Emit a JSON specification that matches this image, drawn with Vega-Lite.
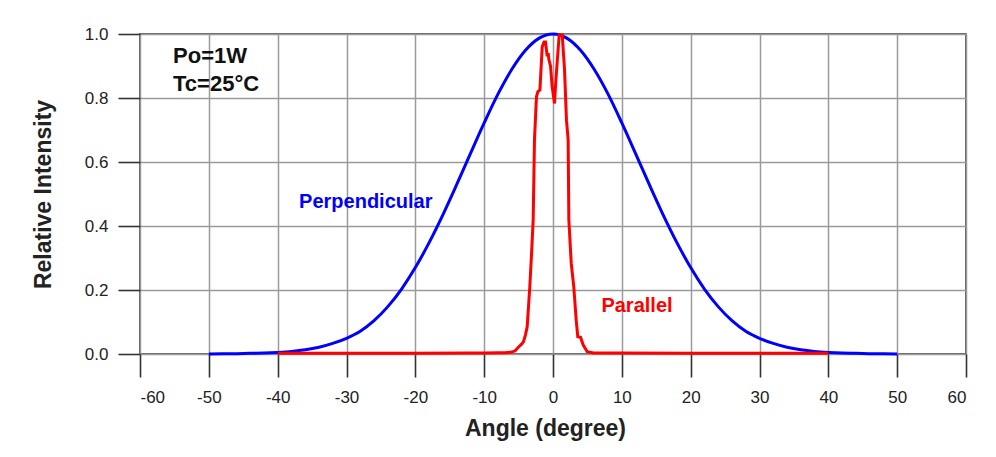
{
  "$schema": "https://vega.github.io/schema/vega-lite/v6.json",
  "autosize": {"type": "none"},
  "width": 826,
  "height": 320,
  "padding": {"left": 140, "top": 34, "right": 30, "bottom": 103},
  "background": "white",
  "config": {
    "font": "Liberation Sans",
    "view": {"stroke": "#333333", "strokeWidth": 1.6},
    "axis": {
      "domain": false,
      "grid": true,
      "gridColor": "#9a9a9a",
      "gridWidth": 1.5,
      "ticks": true,
      "tickColor": "#333333",
      "tickWidth": 1.6,
      "labelFont": "Liberation Sans",
      "labelFontSize": 17,
      "labelColor": "#222222",
      "titleFont": "Liberation Sans",
      "titleFontSize": 23,
      "titleFontWeight": "bold",
      "titleColor": "#222222"
    }
  },
  "datasets": {
    "perp": [
      {"angle": -50, "intensity": 0.0003}, {"angle": -48, "intensity": 0.0005}, {"angle": -46, "intensity": 0.001},
      {"angle": -44, "intensity": 0.002}, {"angle": -42, "intensity": 0.003}, {"angle": -40, "intensity": 0.005},
      {"angle": -38, "intensity": 0.008}, {"angle": -36, "intensity": 0.013}, {"angle": -34, "intensity": 0.021},
      {"angle": -32, "intensity": 0.033}, {"angle": -30, "intensity": 0.049}, {"angle": -28, "intensity": 0.071},
      {"angle": -26, "intensity": 0.104}, {"angle": -24, "intensity": 0.148}, {"angle": -22, "intensity": 0.203},
      {"angle": -20, "intensity": 0.27}, {"angle": -18, "intensity": 0.348}, {"angle": -16, "intensity": 0.435},
      {"angle": -14, "intensity": 0.529}, {"angle": -12, "intensity": 0.626}, {"angle": -10, "intensity": 0.722},
      {"angle": -8, "intensity": 0.812}, {"angle": -6, "intensity": 0.889}, {"angle": -4, "intensity": 0.949},
      {"angle": -2, "intensity": 0.987}, {"angle": 0, "intensity": 1.0}, {"angle": 2, "intensity": 0.987},
      {"angle": 4, "intensity": 0.949}, {"angle": 6, "intensity": 0.889}, {"angle": 8, "intensity": 0.812},
      {"angle": 10, "intensity": 0.722}, {"angle": 12, "intensity": 0.626}, {"angle": 14, "intensity": 0.529},
      {"angle": 16, "intensity": 0.435}, {"angle": 18, "intensity": 0.348}, {"angle": 20, "intensity": 0.27},
      {"angle": 22, "intensity": 0.203}, {"angle": 24, "intensity": 0.148}, {"angle": 26, "intensity": 0.104},
      {"angle": 28, "intensity": 0.071}, {"angle": 30, "intensity": 0.049}, {"angle": 32, "intensity": 0.033},
      {"angle": 34, "intensity": 0.021}, {"angle": 36, "intensity": 0.013}, {"angle": 38, "intensity": 0.008},
      {"angle": 40, "intensity": 0.005}, {"angle": 42, "intensity": 0.003}, {"angle": 44, "intensity": 0.002},
      {"angle": 46, "intensity": 0.001}, {"angle": 48, "intensity": 0.0005}, {"angle": 50, "intensity": 0.0003}
    ],
    "par": [
      {"angle": -40, "intensity": 0.002}, {"angle": -30, "intensity": 0.002}, {"angle": -20, "intensity": 0.002},
      {"angle": -12, "intensity": 0.003}, {"angle": -10, "intensity": 0.003}, {"angle": -8, "intensity": 0.004},
      {"angle": -7, "intensity": 0.004}, {"angle": -6, "intensity": 0.006}, {"angle": -5.5, "intensity": 0.01},
      {"angle": -5, "intensity": 0.022}, {"angle": -4.6, "intensity": 0.03}, {"angle": -4.3, "intensity": 0.038},
      {"angle": -4.0, "intensity": 0.06}, {"angle": -3.75, "intensity": 0.085}, {"angle": -3.37, "intensity": 0.21},
      {"angle": -3.1, "intensity": 0.32}, {"angle": -2.88, "intensity": 0.42}, {"angle": -2.69, "intensity": 0.67},
      {"angle": -2.4, "intensity": 0.804}, {"angle": -2.2, "intensity": 0.82}, {"angle": -1.9, "intensity": 0.825},
      {"angle": -1.57, "intensity": 0.96}, {"angle": -1.3, "intensity": 0.975}, {"angle": -1.09, "intensity": 0.975},
      {"angle": -0.84, "intensity": 0.93}, {"angle": -0.7, "intensity": 0.94}, {"angle": -0.6, "intensity": 0.92},
      {"angle": -0.36, "intensity": 0.9}, {"angle": -0.12, "intensity": 0.835}, {"angle": 0.22, "intensity": 0.783},
      {"angle": 0.4, "intensity": 0.85}, {"angle": 0.6, "intensity": 0.91}, {"angle": 0.9, "intensity": 0.997},
      {"angle": 1.34, "intensity": 0.997}, {"angle": 1.67, "intensity": 0.89}, {"angle": 1.96, "intensity": 0.73},
      {"angle": 2.2, "intensity": 0.67}, {"angle": 2.3, "intensity": 0.42}, {"angle": 2.65, "intensity": 0.283},
      {"angle": 3.02, "intensity": 0.21}, {"angle": 3.37, "intensity": 0.106}, {"angle": 3.6, "intensity": 0.054},
      {"angle": 4.0, "intensity": 0.052}, {"angle": 4.39, "intensity": 0.028}, {"angle": 4.97, "intensity": 0.007},
      {"angle": 5.9, "intensity": 0.003}, {"angle": 8, "intensity": 0.003}, {"angle": 10, "intensity": 0.003},
      {"angle": 20, "intensity": 0.002}, {"angle": 30, "intensity": 0.002}, {"angle": 40, "intensity": 0.002}
    ]
  },
  "layer": [
    {
      "data": {"name": "perp"},
      "mark": {"type": "line", "color": "#0000ff", "strokeWidth": 3, "interpolate": "monotone"},
      "encoding": {
        "x": {
          "field": "angle", "type": "quantitative",
          "scale": {"domain": [-60, 60], "nice": false},
          "axis": {
            "values": [-60, -50, -40, -30, -20, -10, 0, 10, 20, 30, 40, 50, 60],
            "labelExpr": "toString(datum.value)",
            "tickSize": 23, "labelPadding": 12,
            "title": "Angle (degree)",
            "titleX": 405, "titleY": 74, "titleBaseline": "middle", "titleAlign": "center"
          }
        },
        "y": {
          "field": "intensity", "type": "quantitative",
          "scale": {"domain": [0, 1], "nice": false},
          "axis": {
            "values": [0, 0.2, 0.4, 0.6, 0.8, 1.0], "format": ".1f",
            "tickSize": 22, "labelPadding": 10,
            "title": "Relative Intensity",
            "titleAngle": -90, "titleX": -97, "titleY": 160, "titleBaseline": "middle", "titleAlign": "center"
          }
        }
      }
    },
    {
      "data": {"name": "par"},
      "mark": {"type": "line", "color": "#ff0000", "strokeWidth": 3},
      "encoding": {
        "x": {"field": "angle", "type": "quantitative"},
        "y": {"field": "intensity", "type": "quantitative"}
      }
    },
    {
      "data": {"values": [{"label": "Po=1W"}]},
      "mark": {"type": "text", "font": "Liberation Sans", "fontWeight": "bold", "fontSize": 22, "color": "#111111", "align": "left", "baseline": "middle"},
      "encoding": {
        "x": {"datum": -55.2},
        "y": {"datum": 0.93},
        "text": {"field": "label"}
      }
    },
    {
      "data": {"values": [{"label": "Tc=25°C"}]},
      "mark": {"type": "text", "font": "Liberation Sans", "fontWeight": "bold", "fontSize": 22, "color": "#111111", "align": "left", "baseline": "middle"},
      "encoding": {
        "x": {"datum": -55.2},
        "y": {"datum": 0.845},
        "text": {"field": "label"}
      }
    },
    {
      "data": {"values": [{"label": "Perpendicular"}]},
      "mark": {"type": "text", "font": "Liberation Sans", "fontWeight": "bold", "fontSize": 20, "color": "#0000ff", "align": "center", "baseline": "middle"},
      "encoding": {
        "x": {"datum": -27.2},
        "y": {"datum": 0.474},
        "text": {"field": "label"}
      }
    },
    {
      "data": {"values": [{"label": "Parallel"}]},
      "mark": {"type": "text", "font": "Liberation Sans", "fontWeight": "bold", "fontSize": 20, "color": "#ff0000", "align": "center", "baseline": "middle"},
      "encoding": {
        "x": {"datum": 12.2},
        "y": {"datum": 0.15},
        "text": {"field": "label"}
      }
    }
  ]
}
